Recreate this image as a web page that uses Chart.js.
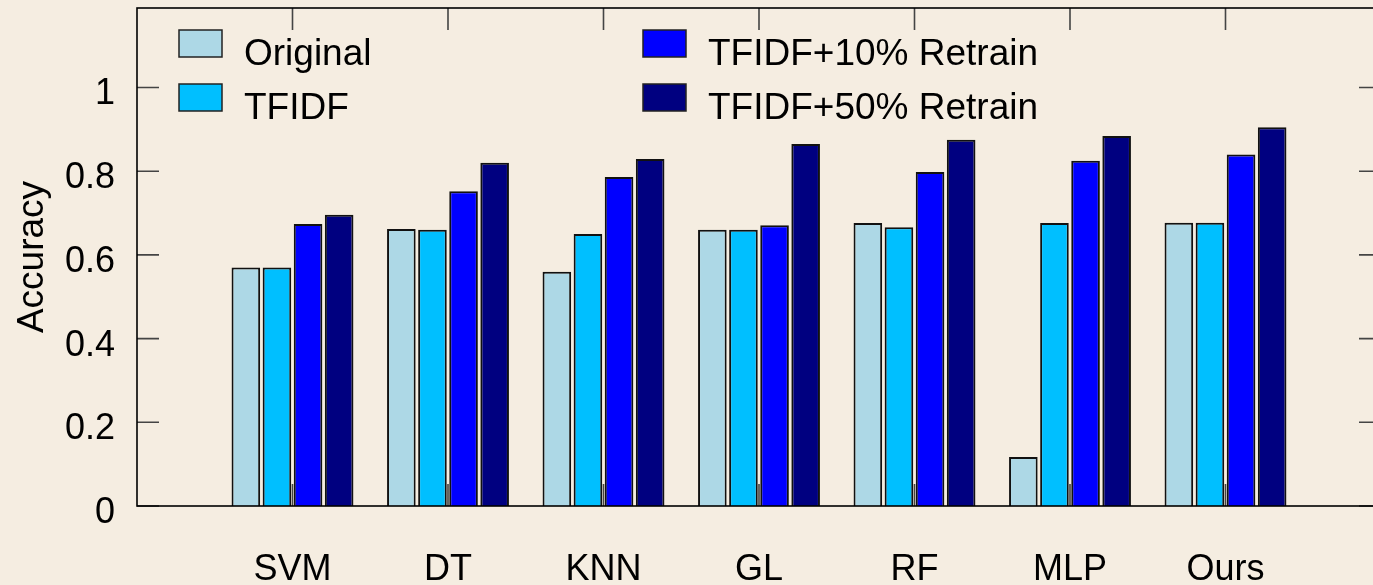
<!DOCTYPE html>
<html>
<head>
<meta charset="utf-8">
<script src="https://cdn.jsdelivr.net/npm/chart.js@4"></script>
<style>
  body { margin: 0; background: #F5EDE1; overflow: hidden; }
  #chart { position: absolute; left: 0; top: 0; }
</style>
</head>
<body>
<canvas id="chart" width="1400" height="585"></canvas>
<script>
const categories = ["SVM", "DT", "KNN", "GL", "RF", "MLP", "Ours"];
const original = [0.570, 0.662, 0.560, 0.660, 0.676, 0.117, 0.677];
const tfidf = [0.570, 0.660, 0.650, 0.660, 0.666, 0.676, 0.677];
const retrain10 = [0.674, 0.752, 0.786, 0.671, 0.798, 0.825, 0.840];
const retrain50 = [0.696, 0.820, 0.829, 0.865, 0.875, 0.884, 0.905];
const seriesNames = ["Original", "TFIDF", "TFIDF+10% Retrain", "TFIDF+50% Retrain"];
const seriesColors = ["#ADD8E6", "#00BFFF", "#0000FF", "#000080"];

const FONT = "'Liberation Sans', Arial, Helvetica, sans-serif";

// the original plot leaves one empty slot at each end of the x axis
const pad = arr => [null, ...arr, null];

// inward tick marks, frame and two-column legend (gnuplot style)
const frameTicks = {
  id: "frameTicks",
  beforeDatasetsDraw(chart) {
    const ctx = chart.ctx;
    const area = chart.chartArea;
    const x = chart.scales.x;
    const y = chart.scales.y;
    const len = 22;
    ctx.save();
    ctx.strokeStyle = "#444";
    ctx.lineWidth = 1.6;
    ctx.beginPath();
    y.ticks.forEach(t => {
      const py = y.getPixelForValue(t.value);
      ctx.moveTo(area.left, py);
      ctx.lineTo(area.left + len, py);
      ctx.moveTo(area.right - len, py);
      ctx.lineTo(area.right, py);
    });
    for (let i = 1; i <= categories.length; i++) {
      const px = x.getPixelForValue(i);
      ctx.moveTo(px, area.top);
      ctx.lineTo(px, area.top + len);
      ctx.moveTo(px, area.bottom - len);
      ctx.lineTo(px, area.bottom);
    }
    ctx.stroke();
    ctx.restore();
  },
  afterDatasetsDraw(chart) {
    const ctx = chart.ctx;
    const a = chart.chartArea;
    ctx.save();
    ctx.strokeStyle = "#000";
    ctx.lineWidth = 1.6;
    ctx.strokeRect(a.left, a.top, a.right - a.left, a.bottom - a.top);
    ctx.restore();
  },
  afterDraw(chart) {
    const ctx = chart.ctx;
    const a = chart.chartArea;
    const colX = [42, 506];
    ctx.save();
    ctx.font = "37px " + FONT;
    ctx.textBaseline = "alphabetic";
    ctx.textAlign = "left";
    chart.data.datasets.forEach((ds, i) => {
      const col = Math.floor(i / 2);
      const row = i % 2;
      const bx = a.left + colX[col];
      const by = a.top + 22 + row * 54;
      ctx.fillStyle = ds.backgroundColor;
      ctx.fillRect(bx, by, 43, 27);
      ctx.strokeStyle = "#222";
      ctx.lineWidth = 1.5;
      ctx.strokeRect(bx, by, 43, 27);
      ctx.fillStyle = "#000";
      ctx.fillText(ds.label, bx + 65, by + 35);
    });
    ctx.restore();
  }
};

const seriesValues = [original, tfidf, retrain10, retrain50];

new Chart(document.getElementById("chart"), {
  type: "bar",
  data: {
    labels: pad(categories).map(c => c || ""),
    datasets: seriesValues.map((vals, i) => ({
      label: seriesNames[i],
      data: pad(vals),
      backgroundColor: seriesColors[i],
      borderColor: "#111",
      borderWidth: 2,
      categoryPercentage: 0.8,
      barPercentage: 0.92
    }))
  },
  options: {
    responsive: false,
    animation: false,
    layout: { padding: { left: 0, top: 8, right: 19, bottom: 0 } },
    plugins: {
      legend: { display: false },
      tooltip: { enabled: false }
    },
    scales: {
      x: {
        offset: false,
        grid: { display: false, drawTicks: false },
        border: { display: false },
        ticks: {
          autoSkip: false,
          maxRotation: 0,
          padding: 42,
          color: "#000",
          font: { family: FONT, size: 36 }
        },
        afterFit: s => {
          s.height = 79;
          s.paddingLeft = 0;
          s.paddingRight = 0;
        }
      },
      y: {
        min: 0,
        max: 1.19,
        grid: { display: false, drawTicks: false },
        border: { display: false },
        ticks: {
          stepSize: 0.2,
          includeBounds: false,
          padding: 22,
          labelOffset: 7,
          color: "#000",
          font: { family: FONT, size: 36 },
          callback: v => Math.round(v * 10) / 10
        },
        title: {
          display: true,
          text: "Accuracy",
          color: "#000",
          font: { family: FONT, size: 37 },
          padding: { top: 11, bottom: 0 }
        },
        afterFit: s => {
          s.width = 137;
          s.paddingTop = 0;
          s.paddingBottom = 0;
        }
      }
    }
  },
  plugins: [frameTicks]
});
</script>
</body>
</html>
